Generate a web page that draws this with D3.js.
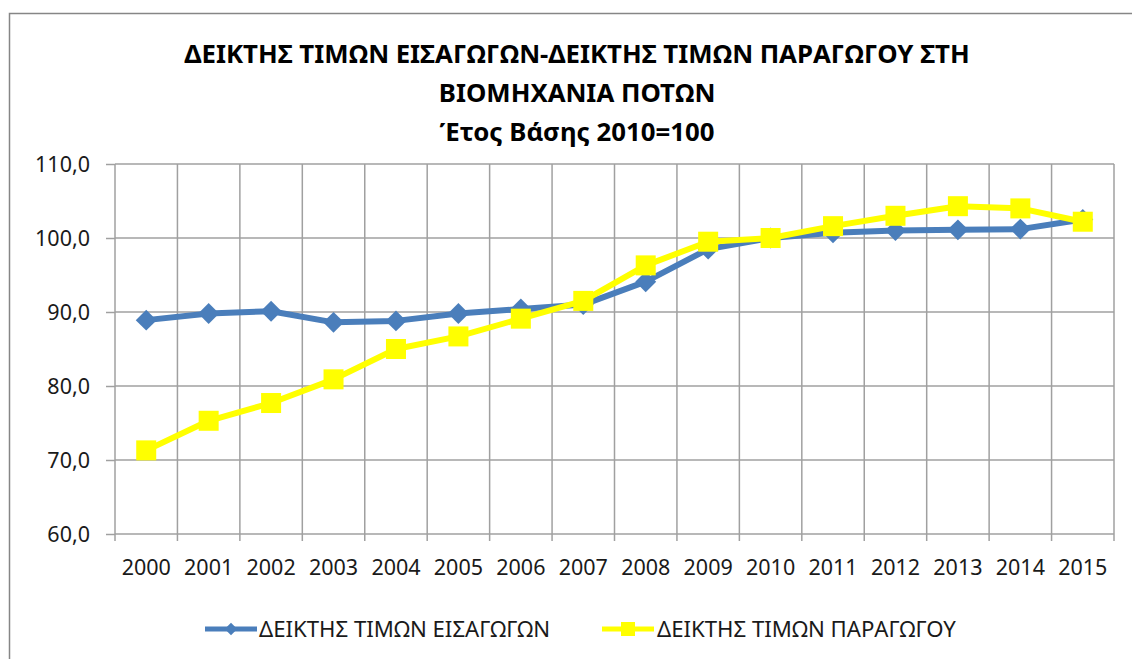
<!DOCTYPE html>
<html><head><meta charset="utf-8">
<script src="https://cdn.jsdelivr.net/npm/d3@7"></script>
<style>html,body{margin:0;padding:0;background:#fff;}svg{display:block;}</style>
</head><body>
<svg id="c" width="1132" height="659"></svg>
<script>
const years = ["2000","2001","2002","2003","2004","2005","2006","2007","2008","2009","2010","2011","2012","2013","2014","2015"];
const importIdx = [88.9,89.8,90.1,88.6,88.8,89.8,90.4,91.0,94.1,98.5,100.0,100.7,101.0,101.1,101.2,102.5];
const producerIdx = [71.3,75.3,77.7,80.9,85.0,86.7,89.1,91.5,96.3,99.5,100.0,101.6,103.0,104.3,104.0,102.2];
const yTicks = [60,70,80,90,100,110];
const seriesNames = ["ΔΕΙΚΤΗΣ ΤΙΜΩΝ ΕΙΣΑΓΩΓΩΝ","ΔΕΙΚΤΗΣ ΤΙΜΩΝ ΠΑΡΑΓΩΓΟΥ"];
const titleLines = ["ΔΕΙΚΤΗΣ ΤΙΜΩΝ ΕΙΣΑΓΩΓΩΝ-ΔΕΙΚΤΗΣ ΤΙΜΩΝ ΠΑΡΑΓΩΓΟΥ ΣΤΗ","ΒΙΟΜΗΧΑΝΙΑ ΠΟΤΩΝ","Έτος Βάσης 2010=100"];

const svg = d3.select("#c");
const font = "'Noto Sans', sans-serif";
const L = 115, R = 1114, T = 164, B = 534;
const grid = "#a0a0a0";

svg.append("rect").attr("x",9.5).attr("y",13.5).attr("width",1200).attr("height",800)
  .attr("fill","#fff").attr("stroke","#868686").attr("stroke-width",1.5);

const x = d3.scaleBand().domain(years).range([L,R]);
const y = d3.scaleLinear().domain([60,110]).range([B,T]);

const yAxis = d3.axisLeft(y).tickValues(yTicks).tickSize(9).tickFormat(d => d3.format(".1f")(d).replace(".",","));
const gy = svg.append("g").attr("transform",`translate(${L},0)`).call(yAxis);
gy.select(".domain").remove();
gy.selectAll(".tick line").attr("stroke",grid).attr("stroke-width",1.5);
gy.selectAll(".tick text").attr("font-family",font).attr("font-size",21.5).attr("fill","#1a1a1a").attr("x",-25).attr("dy","0.36em");
svg.append("g").selectAll("line").data(yTicks).join("line")
  .attr("x1",L).attr("x2",R).attr("y1",d=>y(d)).attr("y2",d=>y(d))
  .attr("stroke",grid).attr("stroke-width",1.5);

const bounds = years.map(d => x(d)).concat([R]);
svg.append("g").selectAll("line").data(bounds).join("line")
  .attr("x1",d=>d).attr("x2",d=>d).attr("y1",T).attr("y2",B+7)
  .attr("stroke",grid).attr("stroke-width",1.5);

const xAxis = d3.axisBottom(x).tickSize(0);
const gx = svg.append("g").attr("transform",`translate(0,${B})`).call(xAxis);
gx.select(".domain").remove();
gx.selectAll(".tick text").attr("font-family",font).attr("font-size",21.5).attr("fill","#1a1a1a").attr("y",41).attr("dy",0);

const cx = d => x(d) + x.bandwidth()/2;
const line = d3.line().x((d,i)=>cx(years[i])).y(d=>y(d));

svg.append("path").datum(importIdx).attr("d",line).attr("fill","none").attr("stroke","#4a7ebb").attr("stroke-width",6).attr("stroke-linejoin","round");
const dia = d3.symbol().type(d3.symbolDiamond2).size(280);
svg.append("g").selectAll("path").data(importIdx).join("path")
  .attr("d",dia).attr("transform",(d,i)=>`translate(${cx(years[i])},${y(d)})`).attr("fill","#4a7ebb");

svg.append("path").datum(producerIdx).attr("d",line).attr("fill","none").attr("stroke","#ffff00").attr("stroke-width",6).attr("stroke-linejoin","round");
svg.append("g").selectAll("rect").data(producerIdx).join("rect")
  .attr("x",(d,i)=>cx(years[i])-10).attr("y",d=>y(d)-10).attr("width",20).attr("height",20).attr("fill","#ffff00");

svg.append("g").selectAll("text").data(titleLines).join("text")
  .attr("x",577).attr("y",(d,i)=>63+i*39).attr("text-anchor","middle")
  .attr("font-family",font).attr("font-weight","bold").attr("font-size",25.8).attr("fill","#000").text(d=>d);

const leg = svg.append("g");
const ly = 629;
leg.append("line").attr("x1",205).attr("x2",257).attr("y1",ly).attr("y2",ly).attr("stroke","#4a7ebb").attr("stroke-width",5);
leg.append("path").attr("d",d3.symbol().type(d3.symbolDiamond2).size(100)).attr("transform",`translate(231,${ly})`).attr("fill","#4a7ebb");
leg.append("text").attr("x",259).attr("y",ly+8).attr("font-family",font).attr("font-size",22.2).attr("fill","#1a1a1a").text(seriesNames[0]);
leg.append("line").attr("x1",602).attr("x2",654).attr("y1",ly).attr("y2",ly).attr("stroke","#ffff00").attr("stroke-width",5);
leg.append("rect").attr("x",621).attr("y",ly-7).attr("width",14).attr("height",14).attr("fill","#ffff00");
leg.append("text").attr("x",657).attr("y",ly+8).attr("font-family",font).attr("font-size",22.2).attr("fill","#1a1a1a").text(seriesNames[1]);
</script>
</body></html>
